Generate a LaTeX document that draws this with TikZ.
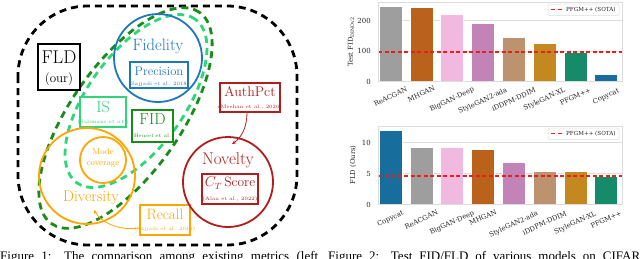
\documentclass[tikz,border=0pt]{standalone}
\usepackage{fontspec}
\newfontfamily\plotfont{DejaVu Serif}
\newfontfamily\capfont{Liberation Serif}
\usetikzlibrary{arrows.meta}
\definecolor{fidblue}{RGB}{31,119,190}
\definecolor{mint}{RGB}{46,214,120}
\definecolor{dgreen}{RGB}{24,140,24}
\definecolor{orng}{RGB}{255,165,0}
\definecolor{dred}{RGB}{178,30,30}
\definecolor{cgray}{RGB}{158,158,158}
\definecolor{cblue}{RGB}{23,109,156}
\definecolor{corange}{RGB}{195,136,32}
\definecolor{cgreen}{RGB}{22,139,106}
\definecolor{crust}{RGB}{186,97,27}
\definecolor{cpink}{RGB}{194,131,182}
\definecolor{cbrown}{RGB}{189,146,110}
\definecolor{clpink}{RGB}{242,185,224}
\definecolor{gridc}{RGB}{220,220,220}
\definecolor{sotared}{RGB}{235,30,30}
\tikzset{
  bigdash/.style={line width=2.8pt, dash pattern=on 7pt off 5pt},
  ring/.style={circle, draw=#1, line width=1.8pt, inner sep=0pt},
  mbox/.style={draw=#1, line width=1.5pt, inner sep=0pt, fill=white},
  lab/.style={text=#1, inner sep=0pt},
  cite/.style={text=#1, inner sep=0pt, font=\fontsize{5}{6}\selectfont},
  xlab/.style={font=\plotfont\fontsize{6.8}{7}\selectfont, text=black!85, inner sep=0pt, rotate=25},
  ylab/.style={font=\plotfont\fontsize{6.8}{7}\selectfont, text=black!85, inner sep=0pt},
  tick/.style={font=\plotfont\fontsize{7}{8}\selectfont, text=black!85, inner sep=0pt, anchor=east},
  frame/.style={draw=gridc, line width=0.7pt},
  gridl/.style={draw=gridc, line width=0.6pt},
  sota/.style={draw=sotared, line width=1.2pt, dash pattern=on 4pt off 2.5pt},
  barf/.style={fill=#1, draw=white, line width=0.5pt},
  legbox/.style={draw=gridc, fill=white, line width=0.5pt, rounded corners=1.5pt},
  legtxt/.style={font=\plotfont\fontsize{5.6}{6}\selectfont, text=black!85, inner sep=0pt, anchor=west}
}
\begin{document}
\begin{tikzpicture}[x=1pt,y=-1pt]
\useasboundingbox (0,0) rectangle (640,258);
\clip (0,0) rectangle (640,258);
\fill[white] (0,0) rectangle (640,258);

% ---------- left diagram ----------
\draw[bigdash, black, rounded corners=70pt] (18,6) rectangle (297,245);

\draw[bigdash, dgreen, rotate around={55:(125.5,118)}] (125.5,118) ellipse [x radius=129pt, y radius=55pt];
\draw[bigdash, mint, rotate around={54:(136,101)}] (136,101) ellipse [x radius=101pt, y radius=48pt];

\node[ring=fidblue, minimum size=88pt] (fidc) at (158,58) {};
\node[lab=fidblue, font=\fontsize{16.5}{18}\selectfont] (fidt) at (158,46) {Fidelity};
\node[mbox=fidblue, minimum width=58pt, minimum height=26pt] (precb) at (159,75) {};
\node[lab=fidblue, font=\fontsize{12.5}{14}\selectfont] (prect) at (159,71) {Precision};
\node[cite=fidblue] (precc) at (159,84) {(Sajjadi et al. 2018)};

\node[mbox=black, minimum width=42pt, minimum height=46pt] (fldb) at (59,67) {};
\node[lab=black, font=\fontsize{18.5}{20}\selectfont] (fldt) at (59,57) {FLD};
\node[lab=black, font=\fontsize{13}{15}\selectfont] (fldo) at (59,79) {(our)};

\node[mbox=mint, minimum width=46pt, minimum height=30pt] (isb) at (103,112) {};
\node[lab=mint, font=\fontsize{16}{18}\selectfont] (ist) at (103,107) {IS};
\node[cite=mint] (isc) at (103,122.5) {(Salimans et a1.)};

\node[mbox=dgreen, minimum width=41pt, minimum height=32pt] (fidb) at (152.5,126) {};
\node[lab=dgreen, font=\fontsize{16}{18}\selectfont] (fidl) at (152.5,119.5) {FID};
\node[cite=dgreen] (fidcit) at (152.5,136) {(Heusel et al.)};

\node[ring=orng, minimum size=96pt] (divc) at (87,176) {};
\node[ring=orng, minimum size=46pt] (modec) at (103,160) {};
\node[lab=orng, font=\fontsize{8.5}{10}\selectfont] (mode1) at (103,151.5) {Mode};
\node[lab=orng, font=\fontsize{8.5}{10}\selectfont] (mode2) at (103,164) {coverage};
\node[lab=orng, font=\fontsize{15.5}{17}\selectfont] (divt) at (91,198) {Diversity};

\node[mbox=orng, minimum width=50pt, minimum height=30pt] (recb) at (165,220) {};
\node[lab=orng, font=\fontsize{15}{17}\selectfont] (rect) at (165,214) {Recall};
\node[cite=orng] (recc) at (165,229.5) {(Sajjadi et al. 2018)};
\draw[orng, line width=0.8pt, -{Stealth[length=4pt,width=3.5pt]}] ([yshift=-8pt]recb.west) .. controls (118,231) and (101,222) .. (94,210);

\node[ring=dred, minimum size=90pt] (novc) at (228,182) {};
\node[lab=dred, font=\fontsize{17}{19}\selectfont] (novt) at (228,160) {Novelty};
\node[mbox=dred, minimum width=56pt, minimum height=30pt] (ctb) at (230,189) {};
\node[lab=dred, font=\fontsize{13.5}{15}\selectfont] (ctt) at (230,183) {$C_T$\,Score};
\node[cite=dred] (ctc) at (230,199.5) {(Alaa et al., 2022)};

\node[mbox=dred, minimum width=60pt, minimum height=29pt] (authb) at (250,97.5) {};
\node[lab=dred, font=\fontsize{14}{16}\selectfont] (autht) at (250,92) {AuthPct};
\node[cite=dred] (authc) at (250,107.5) {(Meehan et al., 2020)};
\draw[dred, line width=0.8pt, -{Stealth[length=4pt,width=3.5pt]}] ([xshift=-3pt]authb.south) .. controls (247,128) and (241,138) .. (232,144);

% ---------- top chart ----------
\foreach \v in {0,100,200} \draw[gridl] (378,{81.5-\v*0.305}) -- (622,{81.5-\v*0.305});
\foreach \i/\v/\c/\lab/\off in {0/246/cgray/ReACGAN/14.5, 1/244/crust/MHGAN/12, 2/220/clpink/BigGAN-Deep/17.5, 3/190/cpink/StyleGAN2-ada/19, 4/144/cbrown/iDDPM-DDIM/17.5, 5/125/corange/StyleGAN-XL/17.5, 6/96/cgreen/PFGM++/14.5, 7/23/cblue/Copycat/14.5}{
  \fill[barf=\c] ({390.5+30.8*\i-11.5},81.5) rectangle ({390.5+30.8*\i+11.5},{81.5-\v*0.305});
  \node[xlab] at ({390.5+30.8*\i},{82+\off}) {\lab};
}
\draw[sota] (378,52) -- (622,52);
\draw[frame] (378,2) rectangle (622,81.5);
\foreach \v in {0,100,200} \node[tick] at (371,{81.5-\v*0.305}) {\v};
\node[ylab, rotate=90] at (351,42) {Test FID\textsubscript{DINOv2}};
\draw[legbox] (548,4) rectangle (619,15.5);
\draw[sota] (551,9.8) -- (563,9.8);
\node[legtxt] at (566,9.8) {PFGM++ (SOTA)};

% ---------- bottom chart ----------
\foreach \v in {0,5,10} \draw[gridl] (378,{204.5-\v*6.2}) -- (622,{204.5-\v*6.2});
\foreach \i/\v/\c/\lab/\off in {0/12.0/cblue/Copycat/14, 1/9.2/cgray/ReACGAN/14.5, 2/9.2/clpink/BigGAN-Deep/18, 3/8.9/crust/MHGAN/12.5, 4/6.8/cpink/StyleGAN2-ada/19.5, 5/5.3/cbrown/iDDPM-DDIM/18, 6/5.3/corange/StyleGAN-XL/18, 7/4.6/cgreen/PFGM++/14.5}{
  \fill[barf=\c] ({390.5+30.8*\i-11.5},204.5) rectangle ({390.5+30.8*\i+11.5},{204.5-\v*6.2});
  \node[xlab] at ({390.5+30.8*\i},{205+\off}) {\lab};
}
\draw[sota] (378,176) -- (622,176);
\draw[frame] (378,126) rectangle (622,204.5);
\foreach \v in {0,5,10} \node[tick] at (371,{204.5-\v*6.2}) {\v};
\node[ylab, rotate=90] at (353,165) {FLD (Ours)};
\draw[legbox] (548,128) rectangle (619,139.5);
\draw[sota] (551,133.8) -- (563,133.8);
\node[legtxt] at (566,133.8) {PFGM++ (SOTA)};

% ---------- captions (cut off) ----------
\node[anchor=base west, inner sep=0pt, font=\capfont\fontsize{13}{15}\selectfont] (cap1) at (0,260) {\makebox[318pt][s]{Figure 1: The comparison among existing metrics (left}};
\node[anchor=base west, inner sep=0pt, font=\capfont\fontsize{13}{15}\selectfont] (cap2) at (328,260) {\makebox[312pt][s]{Figure 2: Test FID/FLD of various models on CIFAR}};
\end{tikzpicture}
\end{document}
